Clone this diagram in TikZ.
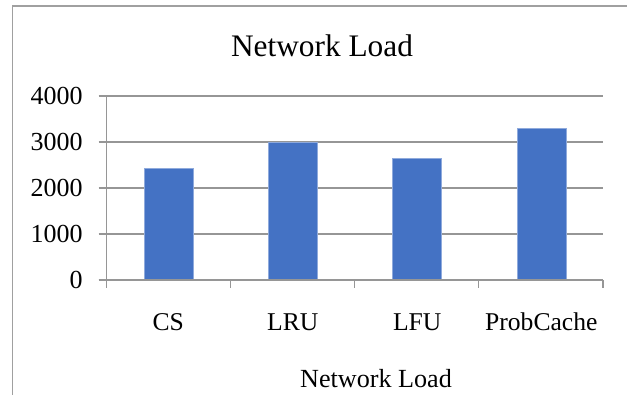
\documentclass[tikz,border=0pt]{standalone}
\usepackage{fontspec}
\setmainfont{Liberation Serif}
\definecolor{barblue}{RGB}{68,114,196}
\definecolor{gridgray}{RGB}{150,150,150}
\definecolor{framegray}{RGB}{160,160,160}
\tikzset{
  gridline/.style={draw=gridgray, line width=0.9pt},
  axisline/.style={draw=gridgray, line width=0.9pt},
  framebox/.style={draw=framegray, line width=1pt},
  bar/.style={fill=barblue, draw=barblue!60!white, line width=0.4pt},
  ticklabel/.style={font=\fontsize{19.5pt}{22pt}\selectfont, inner sep=0pt},
  catlabel/.style={font=\fontsize{19.2pt}{22pt}\selectfont, inner sep=0pt, anchor=base},
  charttitle/.style={font=\fontsize{23.5pt}{27pt}\selectfont, inner sep=0pt, anchor=base},
  axistitle/.style={font=\fontsize{19.6pt}{23pt}\selectfont, inner sep=0pt, anchor=base}
}
\begin{document}
\begin{tikzpicture}[x=0.75pt, y=-0.75pt]
  \useasboundingbox (0,0) rectangle (627,394);
  % chart frame (left and top edges, the rest runs off the page)
  \draw[framebox] (12.5,400) -- (12.5,6) -- (640,6);
  % title
  \node[charttitle] (title) at (322,56) {Network Load};
  % horizontal gridlines and value labels (46 px per 1000)
  \foreach \v/\lab in {0/0,1/1000,2/2000,3/3000,4/4000} {
    \pgfmathsetmacro{\yy}{280-46*\v}
    \draw[gridline] (98.5,\yy) -- (603,\yy);
    \node[ticklabel, anchor=east] (val\v) at (83,\yy) {\lab};
  }
  % value axis
  \draw[axisline] (106.5,96) -- (106.5,288);
  % category ticks
  \foreach \i in {1,2,3,4} {
    \pgfmathsetmacro{\xx}{106.5+124.1*\i}
    \draw[axisline] (\xx,280) -- (\xx,288);
  }
  % bars
  \foreach \c/\val/\name in {168.3/2430/CS, 292.8/2990/LRU, 417.2/2640/LFU, 541.3/3305/ProbCache} {
    \pgfmathsetmacro{\top}{280-0.046*\val}
    \fill[bar] (\c-24.5,280) rectangle (\c+24.5,\top);
    \node[catlabel] (cat\name) at (\c,330) {\name};
  }
  % redraw baseline on top of bars
  \draw[gridline] (98.5,280) -- (603,280);
  % horizontal axis title
  \node[axistitle] (xtitle) at (376,387) {Network Load};
\end{tikzpicture}
\end{document}
